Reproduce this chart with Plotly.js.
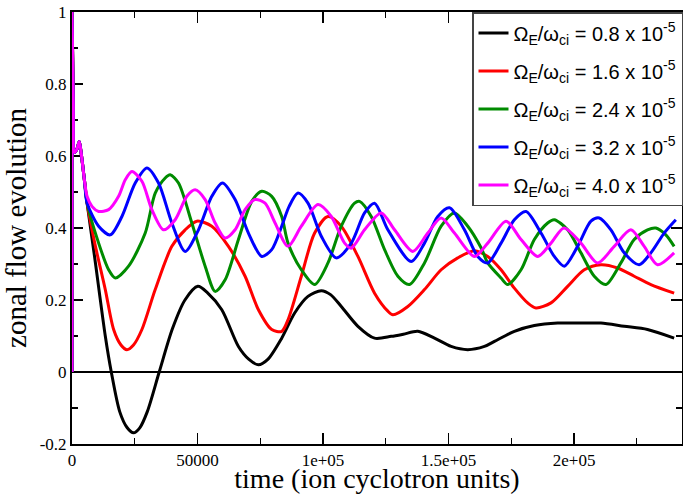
<!DOCTYPE html>
<html>
<head>
<meta charset="utf-8">
<script src="https://cdn.plot.ly/plotly-3.0.1.min.js"></script>
<style>html,body{margin:0;padding:0;background:#fff;}#chart{width:683px;height:494px;}</style>
</head>
<body>
<div id="chart"></div>
<script>
// Series names
const seriesNames = [
  "Ω<sub>E</sub>/ω<sub>ci</sub> = 0.8 x 10<sup>-5</sup>",
  "Ω<sub>E</sub>/ω<sub>ci</sub> = 1.6 x 10<sup>-5</sup>",
  "Ω<sub>E</sub>/ω<sub>ci</sub> = 2.4 x 10<sup>-5</sup>",
  "Ω<sub>E</sub>/ω<sub>ci</sub> = 3.2 x 10<sup>-5</sup>",
  "Ω<sub>E</sub>/ω<sub>ci</sub> = 4.0 x 10<sup>-5</sup>"
];
const seriesColors = ["#000000", "#ff0000", "#008b00", "#0000ff", "#ff00ff"];

// Shared initial transient (time, value)
const tStart = [0, 0, 500, 1000, 2000, 2900, 3800, 5000];
const vStart = [0, 1.0, 0.75, 0.61, 0.62, 0.64, 0.60, 0.53];

// Omega_E/omega_ci = 0.8e-5 (black)
const tBlack = [6000, 9000, 13260, 15650, 19000, 22000, 24500, 27000, 30000, 34740, 40000, 45000, 50120, 54000, 59670, 66300, 70500, 74260, 78000, 83540, 88700, 94000, 99310, 103000, 107270, 113900, 120530, 127160, 132000, 137770, 144400, 151030, 157660, 164290, 168270, 176220, 184180, 193460, 202740, 210700, 219980, 229260, 239870];
const vBlack = [0.47, 0.32, 0.10, 0.0, -0.11, -0.155, -0.169, -0.155, -0.11, 0.0, 0.12, 0.20, 0.238, 0.22, 0.173, 0.071, 0.035, 0.02, 0.035, 0.094, 0.164, 0.21, 0.226, 0.215, 0.182, 0.127, 0.094, 0.099, 0.105, 0.113, 0.094, 0.071, 0.062, 0.071, 0.085, 0.113, 0.129, 0.136, 0.136, 0.136, 0.127, 0.118, 0.094];

// Omega_E/omega_ci = 1.6e-5 (red)
const tRed = [6000, 9000, 13260, 16580, 19500, 21880, 24500, 27850, 33150, 39780, 45080, 49730, 55690, 62320, 68950, 74260, 79560, 83540, 86050, 91360, 96660, 101970, 107270, 113900, 120530, 125830, 127820, 133790, 140420, 147050, 153680, 160310, 165610, 170920, 176220, 181530, 184840, 190810, 197440, 204070, 210700, 217330, 223960, 230590, 239870];
const vRed = [0.47, 0.36, 0.229, 0.118, 0.075, 0.062, 0.075, 0.118, 0.229, 0.349, 0.395, 0.419, 0.405, 0.349, 0.266, 0.173, 0.118, 0.113, 0.145, 0.266, 0.386, 0.432, 0.405, 0.321, 0.219, 0.169, 0.159, 0.182, 0.229, 0.284, 0.317, 0.337, 0.321, 0.284, 0.233, 0.192, 0.178, 0.192, 0.238, 0.284, 0.298, 0.289, 0.266, 0.243, 0.219];

// Omega_E/omega_ci = 2.4e-5 (green)
const tGreen = [6000, 10610, 14590, 17240, 22540, 29170, 33150, 37130, 39120, 42430, 47740, 53040, 57020, 61000, 66300, 71600, 75580, 79560, 83540, 86050, 91360, 96660, 101970, 107270, 112570, 114560, 119200, 124510, 129810, 134450, 140420, 147050, 152350, 157660, 162960, 165610, 170920, 173570, 178880, 184180, 189480, 192130, 197440, 202740, 208050, 212690, 218650, 223960, 229260, 232580, 236560, 239870];
const vGreen = [0.47, 0.358, 0.284, 0.261, 0.294, 0.386, 0.497, 0.539, 0.548, 0.525, 0.414, 0.294, 0.224, 0.256, 0.368, 0.474, 0.502, 0.488, 0.432, 0.358, 0.284, 0.243, 0.303, 0.405, 0.469, 0.474, 0.432, 0.34, 0.266, 0.243, 0.303, 0.405, 0.442, 0.405, 0.345, 0.303, 0.261, 0.243, 0.284, 0.368, 0.414, 0.423, 0.395, 0.331, 0.266, 0.243, 0.303, 0.368, 0.395, 0.40, 0.381, 0.349];

// Omega_E/omega_ci = 3.2e-5 (blue)
const tBlue = [6000, 10610, 15250, 19890, 25190, 29840, 34480, 39780, 45080, 50390, 55690, 59940, 64970, 70280, 75580, 79560, 83540, 86500, 90030, 94010, 99310, 105280, 111250, 116550, 120530, 125830, 135120, 140420, 145720, 150370, 156330, 161640, 165610, 170920, 176220, 180860, 186830, 192130, 196110, 201420, 206720, 210040, 214680, 219980, 225950, 230590, 235900, 240540];
const vBlue = [0.47, 0.405, 0.381, 0.432, 0.525, 0.567, 0.525, 0.414, 0.335, 0.395, 0.488, 0.525, 0.479, 0.386, 0.321, 0.34, 0.405, 0.46, 0.497, 0.469, 0.377, 0.317, 0.358, 0.442, 0.469, 0.395, 0.307, 0.358, 0.432, 0.456, 0.395, 0.321, 0.303, 0.358, 0.423, 0.446, 0.386, 0.321, 0.294, 0.349, 0.419, 0.428, 0.395, 0.331, 0.298, 0.331, 0.386, 0.423];

// Omega_E/omega_ci = 4.0e-5 (magenta)
const tMagenta = [6000, 7960, 10610, 14590, 18560, 21220, 23870, 27850, 31820, 36470, 41110, 45750, 49060, 53040, 57020, 61000, 64970, 68950, 72930, 76910, 80890, 86050, 91360, 97990, 103290, 108600, 111250, 116550, 123180, 128490, 135780, 141750, 147050, 152350, 160310, 165610, 172910, 178880, 185500, 190810, 196000, 202740, 209370, 216000, 222630, 227940, 233240, 239870];
const vMagenta = [0.488, 0.46, 0.446, 0.451, 0.488, 0.534, 0.557, 0.53, 0.451, 0.395, 0.423, 0.488, 0.506, 0.479, 0.414, 0.372, 0.395, 0.451, 0.479, 0.469, 0.414, 0.349, 0.405, 0.465, 0.432, 0.358, 0.344, 0.395, 0.442, 0.395, 0.335, 0.386, 0.428, 0.386, 0.321, 0.358, 0.419, 0.368, 0.321, 0.358, 0.40, 0.358, 0.303, 0.349, 0.395, 0.349, 0.298, 0.331];

// Axis tick labels
const xTickVals = [0, 50000, 100000, 150000, 200000];
const xTickText = ["0", "50000", "1e+05", "1.5e+05", "2e+05"];
const yTickVals = [-0.2, 0, 0.2, 0.4, 0.6, 0.8, 1];
const yTickText = ["-0.2", "0", "0.2", "0.4", "0.6", "0.8", "1"];

const seriesT = [tBlack, tRed, tGreen, tBlue, tMagenta];
const seriesV = [vBlack, vRed, vGreen, vBlue, vMagenta];

const traces = seriesNames.map((name, i) => ({
  type: "scatter",
  mode: "lines",
  name: name,
  legendgroup: "g" + i,
  x: tStart.concat(seriesT[i]),
  y: vStart.concat(seriesV[i]),
  line: {color: seriesColors[i], width: 3, shape: "spline", smoothing: 0.8},
  hoverinfo: "skip"
}));

const serif = "Liberation Serif, Times New Roman, serif";
const axisCommon = {
  showline: true, linecolor: "#000", linewidth: 2,
  ticks: "inside", ticklen: 11, tickwidth: 1.2, tickcolor: "#000",
  mirror: "ticks", showgrid: false,
  tickfont: {family: serif, size: 17, color: "#000"},
  layer: "below traces"
};

const layout = {
  width: 683, height: 494,
  margin: {l: 72, r: 0, t: 12, b: 50},
  paper_bgcolor: "#fff", plot_bgcolor: "#fff",
  showlegend: true,
  xaxis: Object.assign({}, axisCommon, {
    range: [0, 243000],
    tickmode: "array", tickvals: xTickVals, ticktext: xTickText,
    minor: {tickmode: "linear", tick0: 0, dtick: 25000, ticks: "inside", ticklen: 6, tickcolor: "#000", tickwidth: 1.2},
    zeroline: false,
    title: {text: "time (ion cyclotron units)", font: {family: serif, size: 28, color: "#000"}, standoff: 3}
  }),
  yaxis: Object.assign({}, axisCommon, {
    range: [-0.2, 1],
    tickmode: "array", tickvals: yTickVals, ticktext: yTickText,
    minor: {tickmode: "linear", tick0: 0, dtick: 0.1, ticks: "inside", ticklen: 6, tickcolor: "#000", tickwidth: 1.2},
    zeroline: true, zerolinecolor: "#000", zerolinewidth: 1.5,
    title: {text: "zonal flow evolution", font: {family: serif, size: 29, color: "#000"}, standoff: 6}
  }),
  legend: {
    x: 0.656, y: 1, xanchor: "left", yanchor: "top",
    bgcolor: "#fff", bordercolor: "#444", borderwidth: 1.5,
    font: {family: "Liberation Sans, Arial, sans-serif", size: 20, color: "#000"},
    traceorder: "grouped", tracegroupgap: 9
  }
};

Plotly.newPlot("chart", traces, layout, {staticPlot: true, displayModeBar: false});
</script>
</body>
</html>
